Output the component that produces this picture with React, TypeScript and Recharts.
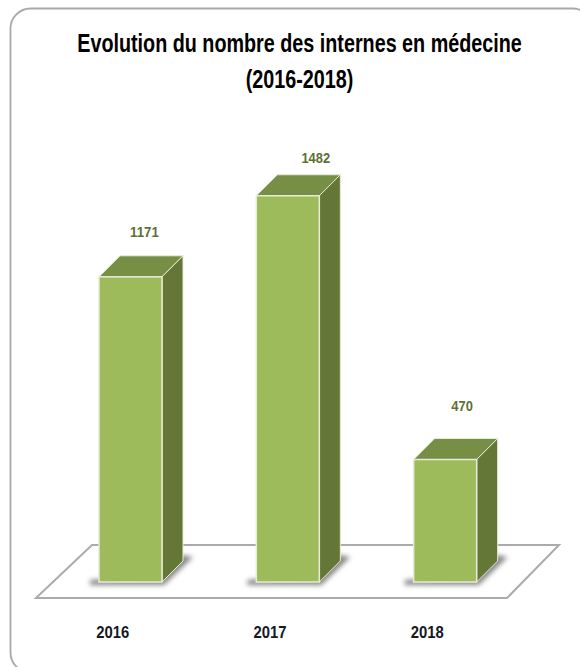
import { Bar, BarChart, LabelList, XAxis, YAxis } from "recharts";

const years = ["2016", "2017", "2018"];
const interns = [1171, 1482, 470];
const titleLines = ["Evolution du nombre des internes en médecine", "(2016-2018)"];

const chartData = years.map((year, i) => ({ year, interns: interns[i] }));

const FONT = '"Liberation Sans", sans-serif';
const DEPTH = 21;
// no narrow bold font here, so the title is squeezed sideways
const TITLE_SQUEEZE = 0.746;
// the value labels float at a different spot above each bar in the original
const labelShift: Record<string, [number, number]> = {
  "1171": [14, -40],
  "1482": [28, -33],
  "470": [17, -49],
};

function Box3D({ x, y, width, height }: any) {
  const bottom = y + height;
  const right = x + width;
  return (
    <g>
      <polygon
        points={`${x - 9},${bottom + 3} ${right + 2},${bottom + 3} ${right + 31},${bottom - 25} ${right + 19},${bottom - 27} ${right},${bottom - 6} ${x - 9},${bottom - 2}`}
        fill="#858585"
        filter="url(#floorShadow)"
      />
      <polygon
        points={`${x},${y} ${x + DEPTH},${y - DEPTH} ${right + DEPTH},${y - DEPTH} ${right},${y}`}
        fill="#778f45"
        stroke="#e6ebd8"
        strokeWidth={1}
      />
      <polygon
        points={`${right},${y} ${right + DEPTH},${y - DEPTH} ${right + DEPTH},${bottom - DEPTH} ${right},${bottom}`}
        fill="#647737"
        stroke="#e6ebd8"
        strokeWidth={1}
      />
      <rect x={x} y={y} width={width} height={height} fill="#9dbb5b" stroke="#e6ebd8" strokeWidth={1.5} />
    </g>
  );
}

function ValueLabel({ x, y, width, value }: any) {
  const [dx, dy] = labelShift[String(value)];
  return (
    <text
      x={x + width / 2 + dx}
      y={y + dy}
      textAnchor="middle"
      fontFamily={FONT}
      fontWeight={700}
      fontSize={14.5}
      fill="#5f6f35"
      textLength={String(value).length * 7.2}
      lengthAdjust="spacingAndGlyphs"
    >
      {value}
    </text>
  );
}

function YearTick({ x, y, payload }: any) {
  return (
    <text
      x={x - 18}
      y={y}
      textAnchor="middle"
      fontFamily={FONT}
      fontWeight={700}
      fontSize={16.5}
      fill="#14181f"
      textLength={33}
      lengthAdjust="spacingAndGlyphs"
    >
      {payload.value}
    </text>
  );
}

export default function App() {
  return (
    <div style={{ position: "absolute", left: 0, top: 0, width: 580, height: 667, overflow: "hidden", background: "#fff" }}>
      <svg width={580} height={667} style={{ position: "absolute", left: 0, top: 0 }}>
        {/* card runs past the right and bottom of the picture, as in the original crop */}
        <rect x={10.5} y={8.5} width={582} height={664} rx={20} fill="#fff" stroke="#a8a8a8" strokeWidth={1.8} />
        <polygon points="36,598 507,598 559,545 92,545" fill="#fff" stroke="#ababab" strokeWidth={2} />
        {titleLines.map((line, i) => (
          <text
            key={line}
            transform={`translate(299.5 ${52 + i * 36}) scale(${TITLE_SQUEEZE} 1)`}
            textAnchor="middle"
            fontFamily={FONT}
            fontWeight={700}
            fontSize={26.5}
            fill="#000"
          >
            {line}
          </text>
        ))}
      </svg>
      <div style={{ position: "absolute", left: 0, top: 0 }}>
        <BarChart
          width={580}
          height={667}
          data={chartData}
          margin={{ top: 165, right: 56, bottom: 0, left: 52 }}
          style={{ background: "transparent" }}
        >
          <defs>
            <filter id="floorShadow" x="-30%" y="-30%" width="160%" height="160%">
              <feGaussianBlur stdDeviation="2.5" />
            </filter>
          </defs>
          <XAxis
            dataKey="year"
            axisLine={false}
            tickLine={false}
            height={85}
            tick={<YearTick />}
            tickMargin={50}
            interval={0}
          />
          <YAxis hide domain={[0, 1600]} />
          <Bar dataKey="interns" barSize={63} shape={<Box3D />} isAnimationActive={false}>
            <LabelList dataKey="interns" content={<ValueLabel />} />
          </Bar>
        </BarChart>
      </div>
    </div>
  );
}
